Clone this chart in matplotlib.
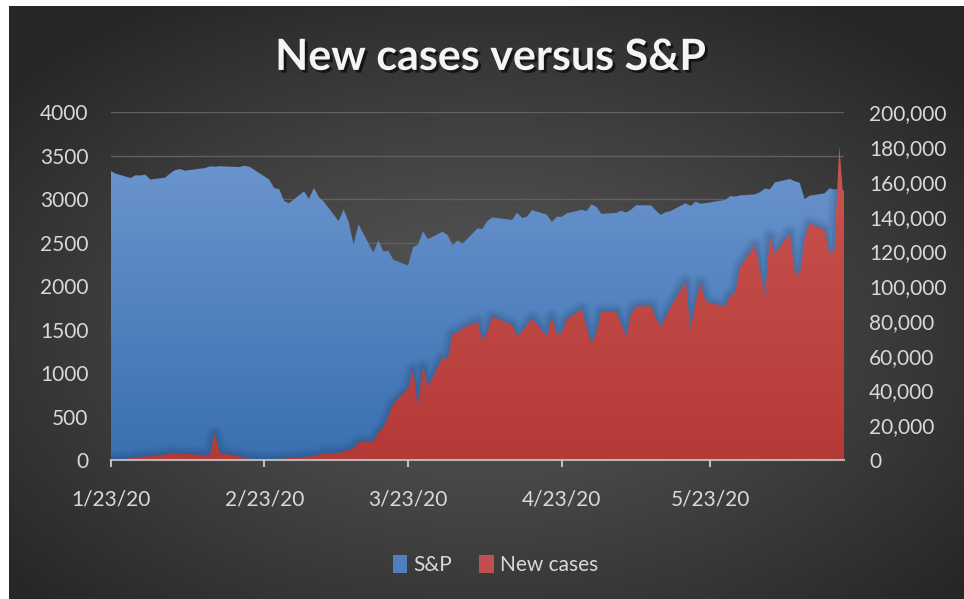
import numpy as np
import pandas as pd
import matplotlib
matplotlib.use("Agg")
import matplotlib.pyplot as plt
import matplotlib.dates as mdates
import matplotlib.colors as mcolors
import matplotlib.patheffects as pe
from matplotlib.patches import Patch
from matplotlib.ticker import FuncFormatter, MultipleLocator

plt.rcParams['font.family'] = ['Lato', 'DejaVu Sans']

# trading days
dates = [
    "2020-01-23", "2020-01-24", "2020-01-27", "2020-01-28", "2020-01-29", "2020-01-30", "2020-01-31",
    "2020-02-03", "2020-02-04", "2020-02-05", "2020-02-06", "2020-02-07", "2020-02-10", "2020-02-11",
    "2020-02-12", "2020-02-13", "2020-02-14", "2020-02-18", "2020-02-19", "2020-02-20", "2020-02-21",
    "2020-02-24", "2020-02-25", "2020-02-26", "2020-02-27", "2020-02-28",
    "2020-03-02", "2020-03-03", "2020-03-04", "2020-03-05", "2020-03-06", "2020-03-09", "2020-03-10",
    "2020-03-11", "2020-03-12", "2020-03-13", "2020-03-16", "2020-03-17", "2020-03-18", "2020-03-19",
    "2020-03-20", "2020-03-23", "2020-03-24", "2020-03-25", "2020-03-26", "2020-03-27", "2020-03-30",
    "2020-03-31",
    "2020-04-01", "2020-04-02", "2020-04-03", "2020-04-06", "2020-04-07", "2020-04-08", "2020-04-09",
    "2020-04-13", "2020-04-14", "2020-04-15", "2020-04-16", "2020-04-17", "2020-04-20", "2020-04-21",
    "2020-04-22", "2020-04-23", "2020-04-24", "2020-04-27", "2020-04-28", "2020-04-29", "2020-04-30",
    "2020-05-01", "2020-05-04", "2020-05-05", "2020-05-06", "2020-05-07", "2020-05-08", "2020-05-11",
    "2020-05-12", "2020-05-13", "2020-05-14", "2020-05-15", "2020-05-18", "2020-05-19", "2020-05-20",
    "2020-05-21", "2020-05-22", "2020-05-26", "2020-05-27", "2020-05-28", "2020-05-29",
    "2020-06-01", "2020-06-02", "2020-06-03", "2020-06-04", "2020-06-05", "2020-06-08", "2020-06-09",
    "2020-06-10", "2020-06-11", "2020-06-12", "2020-06-15", "2020-06-16", "2020-06-17", "2020-06-18",
    "2020-06-19",
]

sp500 = [
    3326, 3295, 3244, 3276, 3273, 3284, 3226,
    3249, 3298, 3335, 3346, 3328, 3352, 3358, 3379, 3374, 3380, 3370, 3386, 3373, 3338,
    3226, 3128, 3116, 2979, 2954,
    3090, 3003, 3130, 3024, 2972, 2747, 2882, 2741, 2481, 2711, 2386, 2529, 2398, 2409,
    2305, 2237, 2447, 2476, 2630, 2541, 2627, 2585,
    2471, 2527, 2489, 2664, 2659, 2750, 2790, 2762, 2846, 2783, 2800, 2875, 2823, 2737,
    2799, 2798, 2837, 2878, 2863, 2940, 2912,
    2831, 2843, 2868, 2848, 2881, 2930, 2930, 2870, 2820, 2853, 2864, 2954, 2923, 2972,
    2949, 2955, 2992, 3036, 3030, 3044,
    3056, 3081, 3123, 3112, 3194, 3232, 3207, 3190, 3002, 3041, 3067, 3125, 3113, 3115,
    3098,
]

new_cases = [
    100, 300, 800, 1500, 1700, 2000, 2100,
    3100, 3800, 3800, 3300, 3500, 3000, 2500, 2800, 15300, 4200, 2000, 900, 700, 500,
    300, 400, 500, 800, 1000,
    1600, 2000, 2300, 2900, 3800, 4200, 4800, 6100, 6700, 10200, 10500, 15900, 18600, 24900,
    32200, 41200, 51800, 30700, 53700, 42200, 58900, 57900,
    72500, 73300, 75800, 79600, 68700, 73800, 82500, 77700, 71500, 73800, 77700, 81500, 71000, 82100,
    72500, 72900, 80900, 86700, 76700, 66600, 73800,
    85300, 85300, 78100, 71000, 84400, 88200, 88600, 81500, 76400, 82500, 88200, 102600, 75200, 91000,
    101700, 91100, 88200, 94900, 96300, 111200,
    123400, 109300, 94000, 128500, 118700, 130600, 108900, 105900, 128000, 136000, 132500, 118900, 120500, 180700,
    143900,
]

tick_dates = ["2020-01-23", "2020-02-23", "2020-03-23", "2020-04-23", "2020-05-23"]


def gradient_area(ax, x, y, top, bottom, z):
    poly = ax.fill_between(x, 0, y, facecolor='none', edgecolor='none', zorder=z)
    c0 = np.array(mcolors.to_rgb(bottom))
    c1 = np.array(mcolors.to_rgb(top))
    t = np.linspace(0, 1, 256)[:, None]
    grad = (c0 + (c1 - c0) * t)[:, None, :]
    im = ax.imshow(grad, extent=[x.min(), x.max(), 0, max(y)], origin='lower',
                   aspect='auto', zorder=z, interpolation='bicubic')
    path = poly.get_paths()[0]
    im.set_clip_path(path, transform=ax.transData)
    return path


x = mdates.date2num(pd.to_datetime(dates))

fig = plt.figure(figsize=(9.64, 5.99), dpi=100)
fig.patch.set_facecolor('white')

# dark radial background
bg = fig.add_axes([9 / 964, 0, 1 - 9 / 964, 1 - 6 / 599])
bg.axis('off')
yy, xx = np.mgrid[0:1:300j, 0:1:480j]
r = np.sqrt(((xx - 0.5) / 0.6) ** 2 + ((yy - 0.55) / 0.6) ** 2)
val = np.clip(0.34 - 0.17 * r ** 1.2, 0.15, 1)
bg.imshow(np.dstack([val, val, val]), aspect='auto', extent=[0, 1, 0, 1])

ax = fig.add_axes([0.1148, 0.2321, 0.761, 0.5804])
ax.set_facecolor('none')
ax2 = ax.twinx()
ax2.set_facecolor('none')

sp_path = gradient_area(ax, x, sp500, '#6a94cd', '#3a6fb1', 1)

# soft shadow of the red area, only visible over the blue area
for lw, a in [(12, 0.06), (8, 0.08), (4, 0.10)]:
    shadow, = ax2.plot(x, new_cases, color='#15304f', lw=lw, alpha=a, zorder=1,
                       solid_joinstyle='round', solid_capstyle='butt')
    shadow.set_clip_path(sp_path, transform=ax.transData)
gradient_area(ax2, x, new_cases, '#ca5551', '#b43a37', 2)

xmin, xmax = x.min(), x.max()
ax.set_xlim(xmin, xmax)
ax2.set_xlim(xmin, xmax)
ax.set_ylim(0, 4000)
ax2.set_ylim(0, 200000)

ax.yaxis.set_major_locator(MultipleLocator(500))
ax2.yaxis.set_major_locator(MultipleLocator(20000))
ax2.yaxis.set_major_formatter(FuncFormatter(lambda v, p: f"{int(v):,}"))

ticks = mdates.date2num(pd.to_datetime(tick_dates))
ax.set_xticks(ticks)
ax.set_xticklabels([f"{d.month}/{d.day}/{d:%y}" for d in pd.to_datetime(tick_dates)])

ax.grid(True, axis='y', color='#606060', lw=1)
ax.set_axisbelow(True)

for s in ax.spines.values():
    s.set_visible(False)
for s in ax2.spines.values():
    s.set_visible(False)
ax2.spines['bottom'].set_visible(True)
ax2.spines['bottom'].set_color('#c8c8c8')
ax2.spines['bottom'].set_linewidth(1.5)
ax2.spines['bottom'].set_alpha(0.85)

ax.tick_params(axis='y', length=0, pad=16, labelsize=15, labelcolor='#d9d9d9')
ax2.tick_params(axis='y', length=0, pad=18, labelsize=15, labelcolor='#d9d9d9')
ax.tick_params(axis='x', length=5, width=1.5, color='#bfbfbf', pad=16,
               labelsize=15, labelcolor='#d9d9d9')

fig.text(0.509, 0.905, "New cases versus S&P", ha='center', va='center',
         fontsize=31, fontweight='bold', color='#f4f4f4',
         path_effects=[pe.withSimplePatchShadow(offset=(2, -2), shadow_rgbFace='black', alpha=0.6)])

handles = [Patch(facecolor='#4f7fc0', edgecolor='none', label='S&P'),
           Patch(facecolor='#c0504d', edgecolor='none', label='New cases')]
fig.legend(handles=handles, loc='center', bbox_to_anchor=(0.514, 0.057), ncol=2,
           frameon=False, fontsize=15, labelcolor='#d9d9d9', handlelength=0.7,
           handleheight=1.0, handletextpad=0.3, columnspacing=1.3)

fig.savefig("out.png", dpi=100)
plt.close(fig)
